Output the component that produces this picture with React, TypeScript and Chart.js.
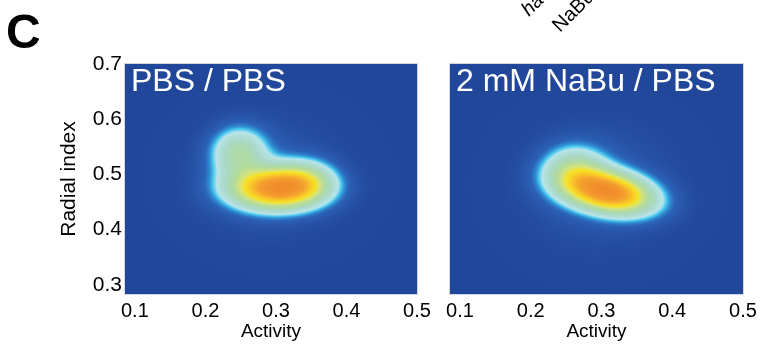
import { useEffect, useRef } from "react";
import { Chart, registerables } from "chart.js";

Chart.register(...registerables);

// ---- axes ----
const xTickValues = [0.1, 0.2, 0.3, 0.4, 0.5];
const yTickValues = [0.3, 0.4, 0.5, 0.6, 0.7];
const xMin = 0.086;
const xMax = 0.5;
const yMin = 0.2835;
const yMax = 0.7;
const xAxisTitle = "Activity";
const yAxisTitle = "Radial index";
const panelTitles = ["PBS / PBS", "2 mM NaBu / PBS"];
const figureLetter = "C";
const headerWords = ["ha", "NaBu"];

// ---- density components (centre x, centre y, spread x, spread y, tilt, weight) ----
const pbsCenterX = [0.3, 0.248, 0.34, 0.29];
const pbsCenterY = [0.474, 0.54, 0.49, 0.495];
const pbsSpreadX = [0.044, 0.027, 0.03, 0.078];
const pbsSpreadY = [0.025, 0.031, 0.025, 0.078];
const pbsTilt = [0, 0, 0, 0];
const pbsWeight = [1.0, 0.4, 0.3, 0.09];

const nabuCenterX = [0.31, 0.262, 0.295];
const nabuCenterY = [0.468, 0.508, 0.48];
const nabuSpreadX = [0.042, 0.03, 0.078];
const nabuSpreadY = [0.026, 0.03, 0.082];
const nabuTilt = [-0.3, 0, 0];
const nabuWeight = [1.0, 0.35, 0.09];

// ---- colour map ----
const colorPositions = [0, 0.02, 0.06, 0.1, 0.135, 0.165, 0.2, 0.3, 0.42, 0.52, 0.6, 0.7, 0.82, 1.0];
const colorValues = [
  "#21479a", "#22499c", "#2856aa", "#2b62b8", "#2f8fd2", "#4cc8ef", "#b6e4ea",
  "#aad8c6", "#b0da9e", "#d6e27c", "#f5e324", "#f9c52a", "#f4a02e", "#f08a2a",
];

const FONT = "'Liberation Sans', Arial, Helvetica, sans-serif";

function hexToRgb(h: string) {
  const n = parseInt(h.slice(1), 16);
  return [(n >> 16) & 255, (n >> 8) & 255, n & 255];
}
const rgbStops = colorValues.map(hexToRgb);

function colorAt(t: number) {
  if (t <= colorPositions[0]) return rgbStops[0];
  for (let i = 1; i < colorPositions.length; i++) {
    if (t <= colorPositions[i]) {
      const a = colorPositions[i - 1];
      const b = colorPositions[i];
      const f = (t - a) / (b - a);
      const c0 = rgbStops[i - 1];
      const c1 = rgbStops[i];
      return [c0[0] + (c1[0] - c0[0]) * f, c0[1] + (c1[1] - c0[1]) * f, c0[2] + (c1[2] - c0[2]) * f];
    }
  }
  return rgbStops[rgbStops.length - 1];
}

type Comp = { cx: number[]; cy: number[]; sx: number[]; sy: number[]; rho: number[]; w: number[] };

function densityAt(c: Comp, x: number, y: number) {
  let s = 0;
  for (let i = 0; i < c.cx.length; i++) {
    const dx = (x - c.cx[i]) / c.sx[i];
    const dy = (y - c.cy[i]) / c.sy[i];
    const r = c.rho[i];
    const q = (dx * dx - 2 * r * dx * dy + dy * dy) / (1 - r * r);
    s += c.w[i] * Math.exp(-0.5 * q);
  }
  return s;
}

function densityPlugin(comp: Comp, title: string) {
  return {
    id: "density",
    beforeDraw(chart: any) {
      const { ctx, chartArea, scales } = chart;
      const left = Math.round(chartArea.left);
      const top = Math.round(chartArea.top);
      const w = Math.round(chartArea.right) - left;
      const h = Math.round(chartArea.bottom) - top;
      const vals = new Float32Array(w * h);
      let max = 0;
      for (let j = 0; j < h; j++) {
        const yv = scales.y.getValueForPixel(top + j + 0.5);
        for (let i = 0; i < w; i++) {
          const xv = scales.x.getValueForPixel(left + i + 0.5);
          const v = densityAt(comp, xv, yv);
          vals[j * w + i] = v;
          if (v > max) max = v;
        }
      }
      const off = document.createElement("canvas");
      off.width = w;
      off.height = h;
      const octx = off.getContext("2d")!;
      const img = octx.createImageData(w, h);
      for (let k = 0; k < w * h; k++) {
        const c = colorAt(vals[k] / max);
        img.data[k * 4] = c[0];
        img.data[k * 4 + 1] = c[1];
        img.data[k * 4 + 2] = c[2];
        img.data[k * 4 + 3] = 255;
      }
      octx.putImageData(img, 0, 0);
      ctx.save();
      ctx.drawImage(off, left, top);
      ctx.strokeStyle = "#d2d6de";
      ctx.lineWidth = 1;
      ctx.strokeRect(left - 0.5, top - 0.5, w + 1, h + 1);
      ctx.restore();
    },
    afterDraw(chart: any) {
      const { ctx, chartArea } = chart;
      ctx.save();
      ctx.fillStyle = "#ffffff";
      ctx.font = `32px ${FONT}`;
      ctx.textBaseline = "alphabetic";
      ctx.textAlign = "left";
      ctx.fillText(title, chartArea.left + 6, chartArea.top + 27);
      ctx.restore();
    },
  };
}

const letterPlugin = {
  id: "letter",
  afterDraw(chart: any) {
    const { ctx } = chart;
    ctx.save();
    ctx.fillStyle = "#000";
    ctx.font = `bold 48px ${FONT}`;
    ctx.textBaseline = "alphabetic";
    ctx.fillText(figureLetter, 6, 48);
    ctx.restore();
  },
};

const headerPlugin = {
  id: "header",
  afterDraw(chart: any) {
    const { ctx } = chart;
    ctx.save();
    ctx.fillStyle = "#000";
    ctx.textBaseline = "alphabetic";
    ctx.translate(529 - 430, 17);
    ctx.rotate(-Math.PI / 4);
    ctx.font = `italic 20px ${FONT}`;
    ctx.fillText(headerWords[0], 0, 0);
    ctx.restore();
    ctx.save();
    ctx.fillStyle = "#000";
    ctx.translate(560 - 430, 33);
    ctx.rotate(-Math.PI / 4);
    ctx.font = `20px ${FONT}`;
    ctx.fillText(headerWords[1], 0, 0);
    ctx.restore();
  },
};

function makeConfig(comp: Comp, title: string, showY: boolean, yAxisWidth: number, padRight: number, extra: any[]) {
  return {
    type: "scatter" as const,
    data: { datasets: [{ data: [] as any[], showLine: false, pointRadius: 0 }] },
    options: {
      responsive: false,
      animation: false as const,
      events: [] as any[],
      layout: { padding: { top: 64, right: padRight, left: 0, bottom: 0 } },
      plugins: { legend: { display: false }, tooltip: { enabled: false }, title: { display: false } },
      scales: {
        x: {
          type: "linear" as const,
          min: xMin,
          max: xMax,
          grid: { display: false, drawTicks: false },
          border: { display: false },
          afterBuildTicks: (s: any) => {
            s.ticks = xTickValues.map((v) => ({ value: v }));
          },
          afterFit: (s: any) => {
            s.height = 66;
          },
          ticks: {
            color: "#000",
            padding: 5,
            maxRotation: 0,
            autoSkip: false,
            font: { family: FONT, size: 20 },
            callback: (v: any) => Number(v).toFixed(1),
          },
          title: {
            display: true,
            text: xAxisTitle,
            color: "#000",
            font: { family: FONT, size: 19 },
            padding: { top: 0, bottom: 17 },
          },
        },
        y: {
          type: "linear" as const,
          min: yMin,
          max: yMax,
          grid: { display: false, drawTicks: false },
          border: { display: false },
          afterBuildTicks: (s: any) => {
            s.ticks = yTickValues.map((v) => ({ value: v }));
          },
          afterFit: (s: any) => {
            s.width = yAxisWidth;
          },
          ticks: {
            display: showY,
            color: "#000",
            padding: 3,
            autoSkip: false,
            font: { family: FONT, size: 21 },
            callback: (v: any) => Number(v).toFixed(1),
          },
          title: {
            display: showY,
            text: yAxisTitle,
            color: "#000",
            font: { family: FONT, size: 21 },
            padding: { top: 57, bottom: 0 },
          },
        },
      },
    },
    plugins: [densityPlugin(comp, title), ...extra],
  };
}

export default function App() {
  const leftRef = useRef<HTMLCanvasElement>(null);
  const rightRef = useRef<HTMLCanvasElement>(null);

  useEffect(() => {
    const pbs: Comp = { cx: pbsCenterX, cy: pbsCenterY, sx: pbsSpreadX, sy: pbsSpreadY, rho: pbsTilt, w: pbsWeight };
    const nabu: Comp = { cx: nabuCenterX, cy: nabuCenterY, sx: nabuSpreadX, sy: nabuSpreadY, rho: nabuTilt, w: nabuWeight };
    const c1 = new Chart(leftRef.current!, makeConfig(pbs, panelTitles[0], true, 125, 33, [letterPlugin]) as any);
    const c2 = new Chart(rightRef.current!, makeConfig(nabu, panelTitles[1], false, 20, 22, [headerPlugin]) as any);
    return () => {
      c1.destroy();
      c2.destroy();
    };
  }, []);

  return (
    <div style={{ position: "absolute", left: 0, top: 0, width: 765, height: 360, background: "#fff", overflow: "hidden" }}>
      <canvas ref={leftRef} width={450} height={360} style={{ position: "absolute", left: 0, top: 0 }} />
      <canvas ref={rightRef} width={335} height={360} style={{ position: "absolute", left: 430, top: 0 }} />
    </div>
  );
}
